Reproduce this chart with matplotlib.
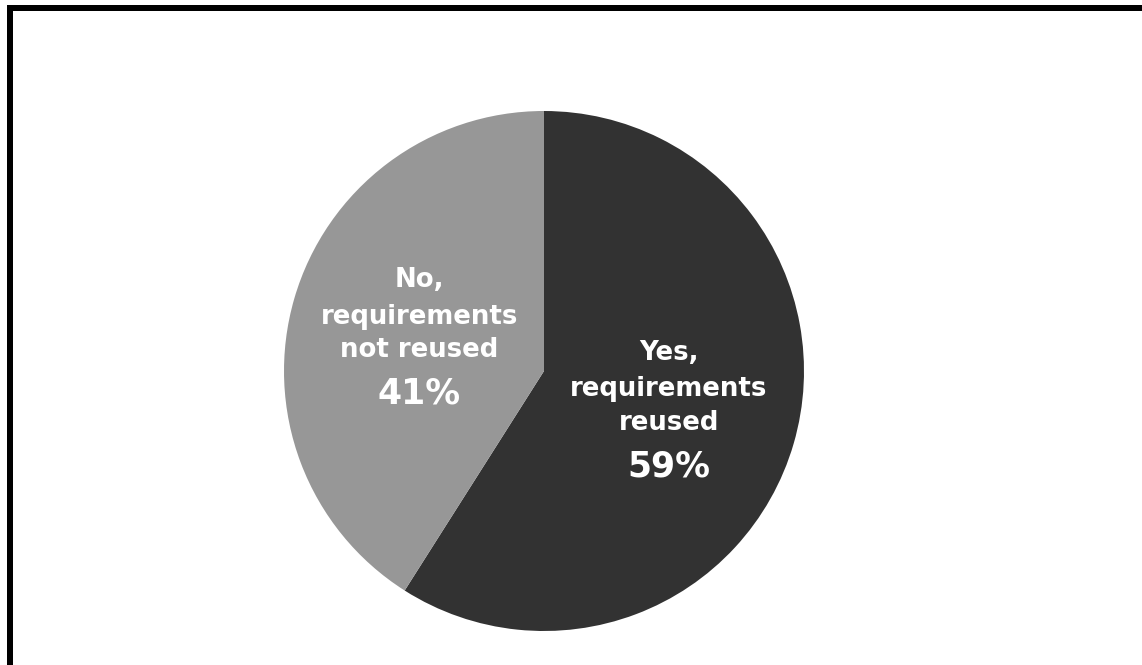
import numpy as np
import matplotlib
matplotlib.use("Agg")
import matplotlib.pyplot as plt
from matplotlib.patches import Rectangle

# Survey answers: were requirements reused?
categories = ["Yes,\nrequirements\nreused", "No,\nrequirements\nnot reused"]
shares = [59, 41]
colors = ["#323232", "#979797"]

W, H, DPI = 1142, 665, 100
fig = plt.figure(figsize=(W / DPI, H / DPI), dpi=DPI)
fig.patch.set_facecolor("white")

# pie area: centre and radius in pixels
cx, cy, r = 544, 371, 260
ax = fig.add_axes([(cx - r) / W, (H - cy - r) / H, 2 * r / W, 2 * r / H])
wedges, _ = ax.pie(shares, colors=colors, startangle=90, counterclock=False,
                   radius=1.0, wedgeprops=dict(linewidth=0))
ax.set_xlim(-1, 1)
ax.set_ylim(-1, 1)
ax.set_axis_off()

# labels: three text lines plus the percentage, stacked at half radius
line_offsets = [47.5, 11, -22.5]   # baseline offsets in pixels (up positive)
pct_offset = -69
for w, cat, val in zip(wedges, categories, shares):
    mid = np.deg2rad((w.theta1 + w.theta2) / 2)
    x, y = 0.5 * np.cos(mid), 0.5 * np.sin(mid)
    for line, off in zip(cat.split("\n"), line_offsets):
        ax.annotate(line, (x, y), xytext=(0, off), textcoords="offset pixels",
                    ha="center", va="baseline", color="white",
                    fontsize=18.7, fontweight="bold", family="DejaVu Sans")
    ax.annotate(f"{val}%", (x, y), xytext=(0, pct_offset), textcoords="offset pixels",
                ha="center", va="baseline", color="white",
                fontsize=25, fontweight="bold", family="DejaVu Sans")

# frame drawn along the top and left edges
fig.patches.append(Rectangle((10 / W, -0.1), 1.2, (H - 8) / H + 0.1,
                             transform=fig.transFigure, fill=False,
                             edgecolor="black", linewidth=6 * 72 / DPI))

fig.savefig("out.png", dpi=DPI, facecolor="white")
